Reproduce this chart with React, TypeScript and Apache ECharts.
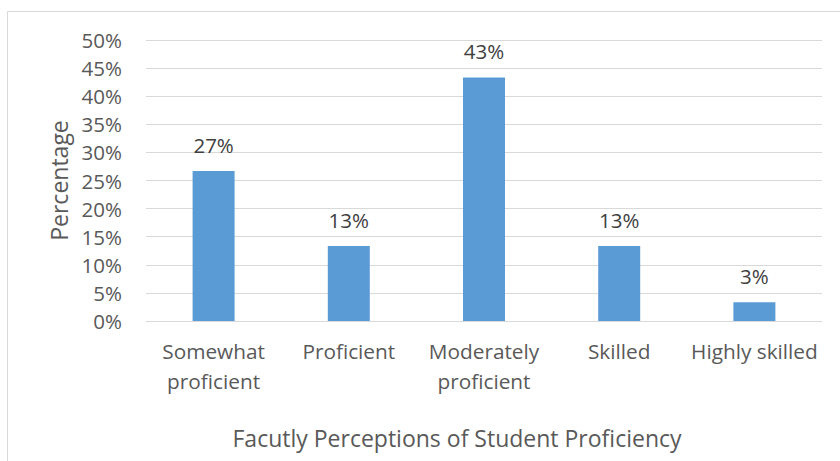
import React, { useEffect, useRef } from "react";
import * as echarts from "echarts";

const categories = ["Somewhat\nproficient", "Proficient", "Moderately\nproficient", "Skilled", "Highly skilled"];
const values = [26.67, 13.33, 43.33, 13.33, 3.33];
const yTicks = { min: 0, max: 50, interval: 5 };
const xTitle = "Facutly Perceptions of Student Proficiency";
const yTitle = "Percentage";

const FONT = "'Open Sans', 'Noto Sans', sans-serif";

export default function App() {
  const ref = useRef<HTMLDivElement>(null);
  useEffect(() => {
    if (!ref.current) return;
    const chart = echarts.init(ref.current, null, { renderer: "svg" });
    chart.setOption({
      animation: false,
      backgroundColor: "#ffffff",
      textStyle: { fontFamily: FONT },
      graphic: [
        {
          type: "rect",
          shape: { x: 7.5, y: 11.5, width: 900, height: 500 },
          style: { fill: "none", stroke: "#d9d9d9", lineWidth: 1 },
          silent: true,
        },
        {
          type: "text",
          x: 457,
          y: 438,
          style: {
            text: xTitle,
            fontSize: 23,
            fill: "#595959",
            fontFamily: FONT,
            align: "center",
            verticalAlign: "middle",
          },
          silent: true,
        },
      ],
      grid: { left: 146, right: 18, top: 40, bottom: 140 },
      xAxis: {
        type: "category",
        data: categories,
        axisLine: { show: true, lineStyle: { color: "#d9d9d9", width: 1 } },
        axisTick: { show: false },
        axisLabel: {
          fontSize: 20.8,
          color: "#595959",
          fontFamily: FONT,
          margin: 15,
          lineHeight: 30,
          interval: 0,
        },
      },
      yAxis: {
        type: "value",
        min: yTicks.min,
        max: yTicks.max,
        interval: yTicks.interval,
        name: yTitle,
        nameLocation: "middle",
        nameGap: 76,
        nameTextStyle: { fontSize: 23, color: "#595959", fontFamily: FONT },
        axisLine: { show: false },
        axisTick: { show: false },
        axisLabel: {
          fontSize: 20.5,
          color: "#595959",
          fontFamily: FONT,
          margin: 24,
          formatter: (v: number) => `${v}%`,
        },
        splitLine: { lineStyle: { color: "#d9d9d9", width: 1 } },
      },
      series: [
        {
          type: "bar",
          data: values,
          barWidth: 42,
          itemStyle: { color: "#5b9bd5" },
          label: {
            show: true,
            position: "top",
            distance: 16,
            fontSize: 20.5,
            color: "#404040",
            fontFamily: FONT,
            formatter: (p: any) => `${Math.round(p.value)}%`,
          },
        },
      ],
    });
    return () => chart.dispose();
  }, []);
  return (
    <div
      ref={ref}
      style={{ position: "absolute", left: 0, top: 0, width: 840, height: 461 }}
    />
  );
}
